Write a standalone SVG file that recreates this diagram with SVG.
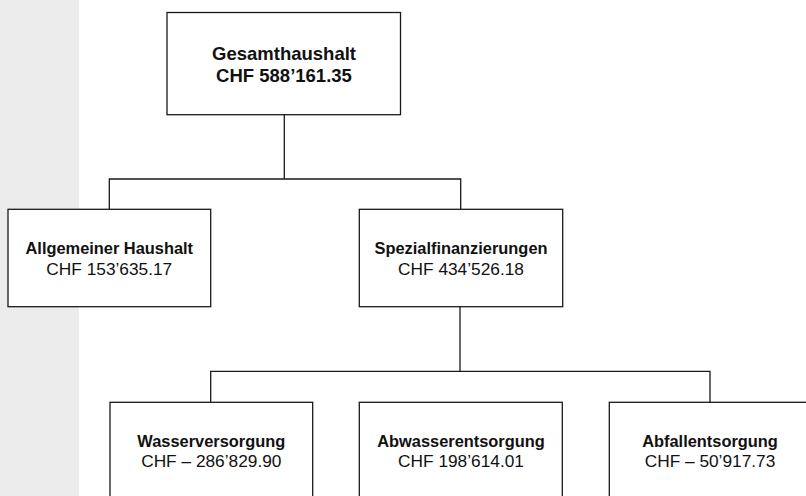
<svg xmlns="http://www.w3.org/2000/svg" width="806" height="496" viewBox="0 0 806 496">
<style>
.box{fill:#fff;stroke:#1a1a1a;stroke-width:1.3}
.con{fill:none;stroke:#1a1a1a;stroke-width:1.3}
text{font-family:"Liberation Sans",Arial,Helvetica,sans-serif;fill:#111;text-anchor:middle}
.top{font-weight:bold;font-size:18.5px}
.name{font-weight:bold;font-size:16.4px}
.val{font-size:17.3px}
</style>
<rect x="0" y="0" width="806" height="496" fill="#fff"/>
<rect x="0" y="0" width="79" height="496" fill="#ececec"/>
<g id="connectors">
<path class="con" d="M284.3 114.7V179M109.3 209.3V179H460.7V209.3"/>
<path class="con" d="M460 306.7V371.3M210.7 402.3V371.3H710V402.3"/>
</g>
<g id="gesamthaushalt">
<rect class="box" x="167" y="12.5" width="233.5" height="102.2"/>
<text class="top" x="284" y="59.5">Gesamthaushalt</text>
<text class="top" x="284" y="82">CHF 588’161.35</text>
</g>
<g id="allgemeiner-haushalt">
<rect class="box" x="8" y="209.3" width="202.7" height="97.4"/>
<text class="name" x="109.3" y="254">Allgemeiner Haushalt</text>
<text class="val" x="109.3" y="274.7">CHF 153’635.17</text>
</g>
<g id="spezialfinanzierungen">
<rect class="box" x="359.3" y="209.3" width="203.4" height="97.4"/>
<text class="name" x="461" y="254">Spezialfinanzierungen</text>
<text class="val" x="461" y="274.7">CHF 434’526.18</text>
</g>
<g id="wasserversorgung">
<rect class="box" x="110" y="402.3" width="202.7" height="110"/>
<text class="name" x="211.3" y="447.3">Wasserversorgung</text>
<text class="val" x="211.3" y="467.3">CHF – 286’829.90</text>
</g>
<g id="abwasserentsorgung">
<rect class="box" x="359.3" y="402.3" width="203" height="110"/>
<text class="name" x="461" y="447.3">Abwasserentsorgung</text>
<text class="val" x="461" y="467.3">CHF 198’614.01</text>
</g>
<g id="abfallentsorgung">
<rect class="box" x="609.3" y="402.3" width="202" height="110"/>
<text class="name" x="710" y="447.3">Abfallentsorgung</text>
<text class="val" x="710" y="467.3">CHF – 50’917.73</text>
</g>
</svg>
